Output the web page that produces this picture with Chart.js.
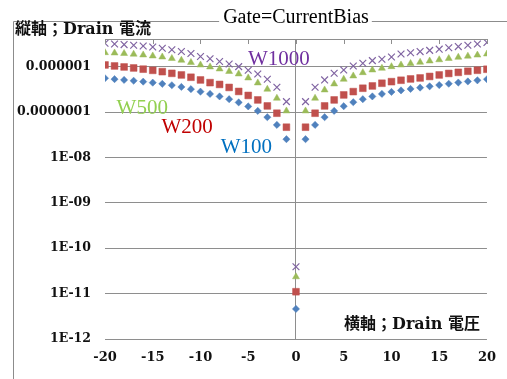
<!DOCTYPE html>
<html>
<head>
<meta charset="utf-8">
<script src="https://cdn.jsdelivr.net/npm/chart.js@4/dist/chart.umd.min.js"></script>
<style>
  html, body { margin: 0; padding: 0; background: #ffffff; }
  canvas { display: block; }
</style>
</head>
<body>
<canvas id="chart" width="507" height="379"></canvas>
<script>
// Drain voltage sweep (V)
const drainVoltage = [-20,-19,-18,-17,-16,-15,-14,-13,-12,-11,-10,-9,-8,-7,-6,-5,-4,-3,-2,-1,0,
                      1,2,3,4,5,6,7,8,9,10,11,12,13,14,15,16,17,18,19,20];

// Drain current (A) for each gate width
const w100 = [5.559e-7,5.312e-7,5.10e-7,4.898e-7,4.677e-7,4.447e-7,4.186e-7,3.899e-7,3.578e-7,3.199e-7,
              2.819e-7,2.509e-7,2.210e-7,1.918e-7,1.631e-7,1.331e-7,1.060e-7,7.701e-8,5.214e-8,2.525e-8,
              4.6e-12,
              2.525e-8,5.214e-8,7.701e-8,1.060e-7,1.345e-7,1.647e-7,1.918e-7,2.210e-7,2.509e-7,2.776e-7,
              2.996e-7,3.232e-7,3.452e-7,3.688e-7,3.938e-7,4.207e-7,4.472e-7,4.726e-7,4.998e-7,5.285e-7];

const w200 = [1.091e-6,1.037e-6,9.86e-7,9.372e-7,8.819e-7,8.298e-7,7.767e-7,7.129e-7,6.572e-7,5.849e-7,
              5.10e-7,4.447e-7,4.061e-7,3.487e-7,2.847e-7,2.325e-7,1.851e-7,1.366e-7,9.433e-8,4.640e-8,
              1.1e-11,
              4.640e-8,9.433e-8,1.366e-7,1.851e-7,2.385e-7,2.819e-7,3.349e-7,3.763e-7,4.315e-7,4.677e-7,
              5.023e-7,5.366e-7,5.645e-7,6.090e-7,6.572e-7,7.092e-7,7.497e-7,7.926e-7,8.34e-7,8.774e-7];

const w500 = [2.035e-6,2.004e-6,1.954e-6,1.886e-6,1.811e-6,1.722e-6,1.637e-6,1.517e-6,1.385e-6,1.238e-6,
              1.091e-6,9.86e-7,8.909e-7,7.847e-7,6.913e-7,5.645e-7,4.382e-7,3.183e-7,2.017e-7,1.060e-7,
              2.35e-11,
              1.060e-7,2.017e-7,3.072e-7,4.165e-7,5.285e-7,6.248e-7,7.383e-7,8.468e-7,9.230e-7,1.001e-6,
              1.091e-6,1.177e-6,1.251e-6,1.336e-6,1.420e-6,1.517e-6,1.612e-6,1.704e-6,1.802e-6,1.905e-6];

const w1000 = [3.277e-6,3.163e-6,3.068e-6,2.961e-6,2.857e-6,2.717e-6,2.543e-6,2.357e-6,2.162e-6,1.954e-6,
               1.679e-6,1.494e-6,1.303e-6,1.148e-6,1.001e-6,8.34e-7,6.913e-7,5.285e-7,3.524e-7,1.698e-7,
               3.9e-11,
               1.698e-7,3.524e-7,5.10e-7,7.162e-7,8.468e-7,1.037e-6,1.189e-6,1.357e-6,1.457e-6,1.637e-6,
               1.905e-6,2.025e-6,2.152e-6,2.287e-6,2.430e-6,2.609e-6,2.771e-6,2.961e-6,3.163e-6,3.413e-6];

// Axis ticks
const yTickValues = [1e-12, 1e-11, 1e-10, 1e-9, 1e-8, 1e-7, 1e-6];
const yTickLabels = ['1E-12', '1E-11', '1E-10', '1E-09', '1E-08', '0.0000001', '0.000001'];
const xTickValues = [-20, -15, -10, -5, 0, 5, 10, 15, 20];

// Texts
const titleText = 'Gate=CurrentBias';
const yTitleText = '縦軸；Drain 電流';
const xTitleText = '横軸；Drain 電圧';
const seriesNames = ['W100', 'W200', 'W500', 'W1000'];

// Styling
const markerColors = ['#4F81BD', '#C0504D', '#9BBB59', '#8064A2'];
const labelColors = ['#0070C0', '#C00000', '#92D050', '#7030A0'];
const gridColor = '#8e8e8e';
const frameColor = '#8c8c8c';
const serif = "'DejaVu Serif', 'Noto Sans CJK JP', serif";

// Where each series name sits, in data units (x = V, y = A)
const seriesLabelAnchors = [
  { x: -5.2, y: 1.62e-8 },
  { x: -11.4, y: 4.48e-8 },
  { x: -16.1, y: 1.17e-7 },
  { x: -1.8, y: 1.41e-6 }
];

const toPoints = (arr) => drainVoltage.map((v, i) => ({ x: v, y: arr[i] }));

const decor = {
  id: 'decor',
  beforeDraw(chart) {
    const { ctx, chartArea: a, width, height } = chart;
    ctx.save();
    ctx.font = "20px 'Liberation Serif', serif";
    const tw = ctx.measureText(titleText).width;
    const tc = (a.left + a.right) / 2;
    ctx.strokeStyle = frameColor;
    ctx.lineWidth = 1;
    ctx.beginPath();
    ctx.moveTo(13.5, height);
    ctx.lineTo(13.5, 21.5);
    ctx.lineTo(tc - tw / 2 - 4, 21.5);
    ctx.moveTo(tc + tw / 2 + 3, 21.5);
    ctx.lineTo(width, 21.5);
    ctx.stroke();
    ctx.restore();
  },
  afterDraw(chart) {
    const { ctx, chartArea: a, scales } = chart;
    const xs = scales.x, ys = scales.y;
    ctx.save();
    // horizontal axis along the top of the plot, ticks pointing inward
    ctx.strokeStyle = gridColor;
    ctx.lineWidth = 1;
    ctx.beginPath();
    ctx.moveTo(a.left, a.top + 0.5);
    ctx.lineTo(a.right, a.top + 0.5);
    xTickValues.forEach(v => {
      const px = Math.round(xs.getPixelForValue(v)) + 0.5;
      ctx.moveTo(px, a.top);
      ctx.lineTo(px, a.top + 5);
    });
    ctx.stroke();

    // series names
    ctx.font = "21px 'Liberation Serif', serif";
    ctx.textAlign = 'center';
    ctx.textBaseline = 'middle';
    seriesNames.forEach((name, i) => {
      const p = seriesLabelAnchors[i];
      ctx.fillStyle = labelColors[i];
      ctx.fillText(name, xs.getPixelForValue(p.x), ys.getPixelForValue(p.y));
    });

    // axis titles
    ctx.fillStyle = '#111111';
    ctx.font = 'bold 16px ' + serif;
    ctx.textAlign = 'left';
    ctx.fillText(yTitleText, 15, 30);
    ctx.textAlign = 'right';
    ctx.fillText(xTitleText, 480, 325);
    ctx.restore();
  }
};

new Chart(document.getElementById('chart'), {
  type: 'scatter',
  data: {
    datasets: [
      { label: seriesNames[0], data: toPoints(w100), pointStyle: 'rectRot', pointRadius: 3.6,
        backgroundColor: markerColors[0], borderColor: markerColors[0], borderWidth: 0.5 },
      { label: seriesNames[1], data: toPoints(w200), pointStyle: 'rect', pointRadius: 4.8,
        backgroundColor: markerColors[1], borderColor: markerColors[1], borderWidth: 0.5 },
      { label: seriesNames[2], data: toPoints(w500), pointStyle: 'triangle', pointRadius: 4,
        backgroundColor: markerColors[2], borderColor: markerColors[2], borderWidth: 0.5 },
      { label: seriesNames[3], data: toPoints(w1000), pointStyle: 'crossRot', pointRadius: 4.8,
        backgroundColor: markerColors[3], borderColor: markerColors[3], borderWidth: 1.2 }
    ]
  },
  options: {
    responsive: false,
    animation: false,
    devicePixelRatio: 1,
    layout: { padding: { left: 0, right: 19, top: 0, bottom: 0 } },
    plugins: {
      legend: { display: false },
      tooltip: { enabled: false },
      title: {
        display: true,
        text: titleText,
        fullSize: false,
        color: '#000000',
        font: { family: "'Liberation Serif', serif", size: 20, weight: 'normal', lineHeight: 1.2 },
        padding: { top: 6, bottom: 9 }
      }
    },
    scales: {
      x: {
        type: 'linear',
        position: 'bottom',
        min: -20,
        max: 20,
        afterBuildTicks: (s) => { s.ticks = xTickValues.map(v => ({ value: v })); },
        afterFit: (s) => { s.height = 40; },
        border: { display: false },
        grid: {
          drawTicks: false,
          color: (c) => (c.tick && c.tick.value === 0 ? gridColor : 'rgba(0,0,0,0)'),
          lineWidth: 1
        },
        ticks: {
          padding: 11,
          color: '#111111',
          font: { family: serif, size: 13, weight: 'bold' },
          maxRotation: 0,
          autoSkip: false
        }
      },
      y: {
        type: 'logarithmic',
        position: 'left',
        min: 1e-12,
        max: 4.07e-6,
        bounds: 'data',
        afterBuildTicks: (s) => { s.ticks = yTickValues.map(v => ({ value: v })); },
        afterFit: (s) => { s.width = 105; },
        border: { display: false },
        grid: { drawTicks: false, color: gridColor, lineWidth: 1 },
        ticks: {
          padding: 14,
          color: '#111111',
          font: { family: serif, size: 12.5, weight: 'bold' },
          autoSkip: false,
          callback: (v) => {
            const i = yTickValues.findIndex(t => Math.abs(Math.log10(t) - Math.log10(v)) < 1e-6);
            return i >= 0 ? yTickLabels[i] : '';
          }
        }
      }
    }
  },
  plugins: [decor]
});
</script>
</body>
</html>
